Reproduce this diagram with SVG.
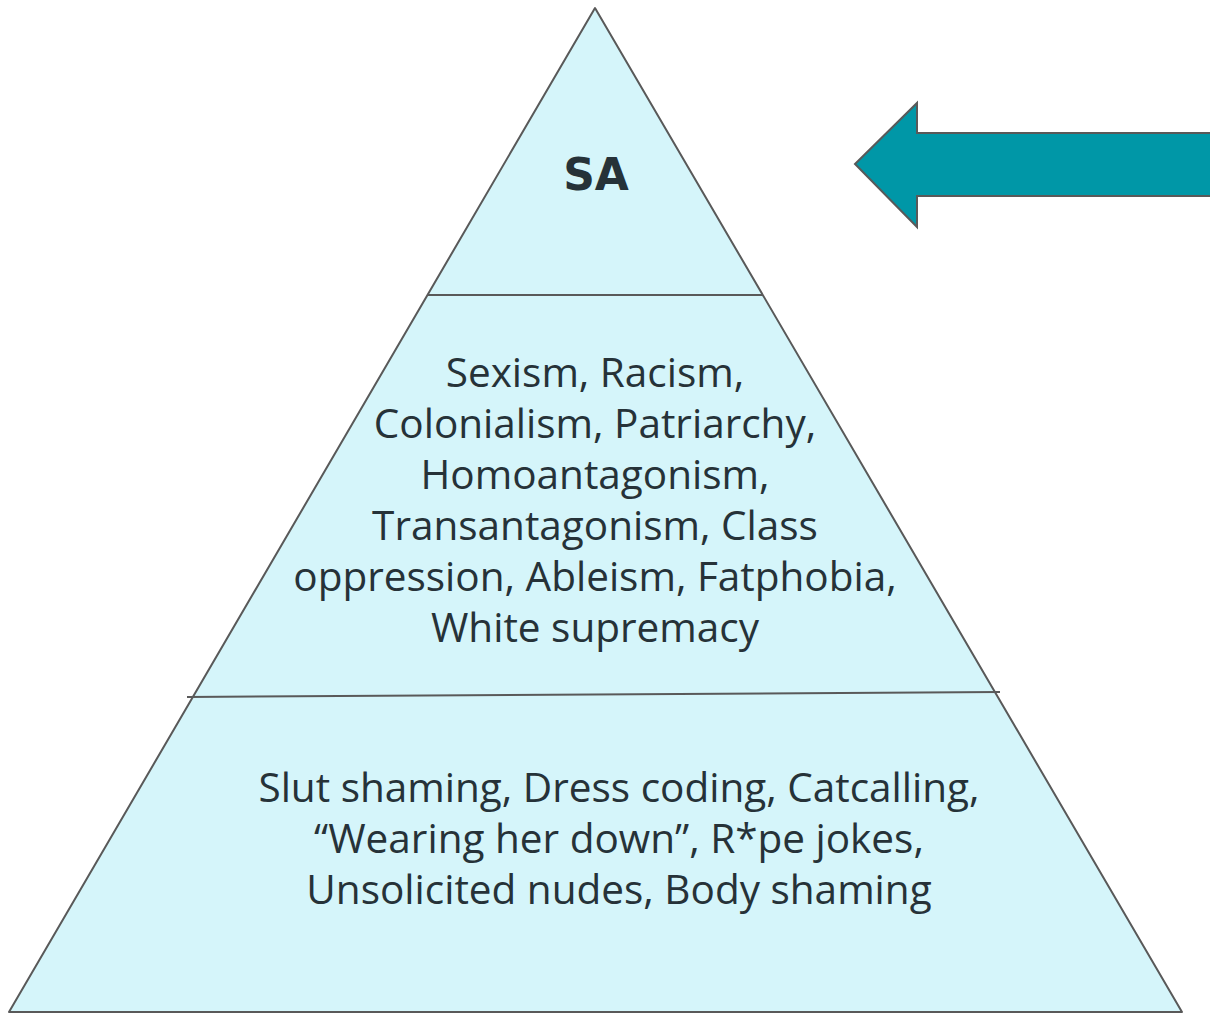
<svg xmlns="http://www.w3.org/2000/svg" width="1210" height="1013" viewBox="0 0 1210 1013">
<style>
.t{font-family:"Open Sans","Liberation Sans",sans-serif;font-size:40.5px;fill:#263238;text-anchor:middle}
.ln{stroke:#595959;stroke-width:2;fill:none}
</style>
<rect width="1210" height="1013" fill="#ffffff"/>
<g id="pyramid">
<polygon points="595,8 1182,1012 9,1012" fill="#D5F5FA" stroke="#595959" stroke-width="2" stroke-linejoin="round"/>
<line class="ln" x1="428" y1="295" x2="763" y2="295"/>
<line class="ln" x1="187" y1="697" x2="1000" y2="692"/>
</g>
<g id="top">
<text x="596" y="190" style="font-family:'DejaVu Sans','Liberation Sans',sans-serif;font-size:44px;font-weight:bold;fill:#263238;text-anchor:middle">SA</text>
</g>
<g id="middle">
<text class="t" x="595" y="387">Sexism, Racism,</text>
<text class="t" x="595" y="438">Colonialism, Patriarchy,</text>
<text class="t" x="595" y="489">Homoantagonism,</text>
<text class="t" x="595" y="540">Transantagonism, Class</text>
<text class="t" x="595" y="591">oppression, Ableism, Fatphobia,</text>
<text class="t" x="595" y="642">White supremacy</text>
</g>
<g id="bottom">
<text class="t" x="619" y="802">Slut shaming, Dress coding, Catcalling,</text>
<text class="t" x="619" y="853">“Wearing her down”, R*pe jokes,</text>
<text class="t" x="619" y="904">Unsolicited nudes, Body shaming</text>
</g>
<g id="connectors">
<polygon id="arrow" points="855,164 917,103 917,133 1212,133 1212,196 917,196 917,227" fill="#0097A7" stroke="#595959" stroke-width="2" stroke-linejoin="miter"/>
</g>
</svg>
